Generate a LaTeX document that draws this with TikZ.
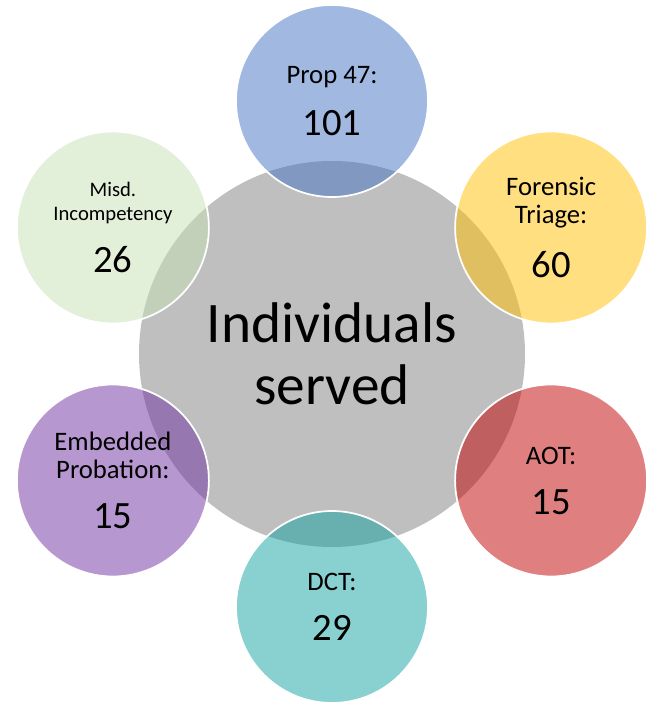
\documentclass[tikz,border=0pt]{standalone}
\usepackage{fontspec}
\setmainfont{Carlito}
\definecolor{HubGray}{HTML}{BFBFBF}
\definecolor{PropBlue}{HTML}{4472C4}
\definecolor{TriageGold}{HTML}{FFC000}
\definecolor{AotRed}{HTML}{C00000}
\definecolor{DctTeal}{HTML}{13A3A1}
\definecolor{ProbPurple}{HTML}{7030A0}
\definecolor{MisdGreen}{HTML}{C5E0B4}
\tikzset{
  hub/.style={circle,fill=HubGray,minimum size=289.5pt,inner sep=0pt,
    align=center,font=\fontsize{43}{46.5}\selectfont},
  ring/.style={circle,draw=white,line width=1.3pt,fill opacity=0.5,
    text opacity=1,minimum size=144pt,inner sep=0pt,align=center,
    font=\fontsize{20}{21}\selectfont},
  ringsm/.style={ring,font=\fontsize{15.5}{18}\selectfont},
}
\newcommand{\tally}[1]{\\[16.5pt]{\fontsize{29}{29}\selectfont #1}}

\begin{document}
\begin{tikzpicture}[x=0.75pt,y=0.75pt]
\useasboundingbox (-332,-348) rectangle (322,354);
\node[hub] (hub) at (0,0) {};
% outer programmes
\node[ring,fill=PropBlue]   (prop)   at (90:253)  {Prop 47:\tally{101}};
\node[ring,fill=TriageGold] (triage) at (30:253)  {Forensic\\Triage:\tally{60}};
\node[ring,fill=AotRed]     (aot)    at (-30:253) {AOT:\tally{15}};
\node[ring,fill=DctTeal]    (dct)    at (-90:253) {DCT:\tally{29}};
\node[ring,fill=ProbPurple] (prob)   at (210:253) {Embedded\\Probation:\tally{15}};
\node[ringsm,fill=MisdGreen] (misd)  at (150:253) {Misd.\\Incompetency\tally{26}};
\node[align=center,font=\fontsize{43}{46.5}\selectfont] (hubtxt) at (hub.center)
  {Individuals\\served};
\end{tikzpicture}
\end{document}
